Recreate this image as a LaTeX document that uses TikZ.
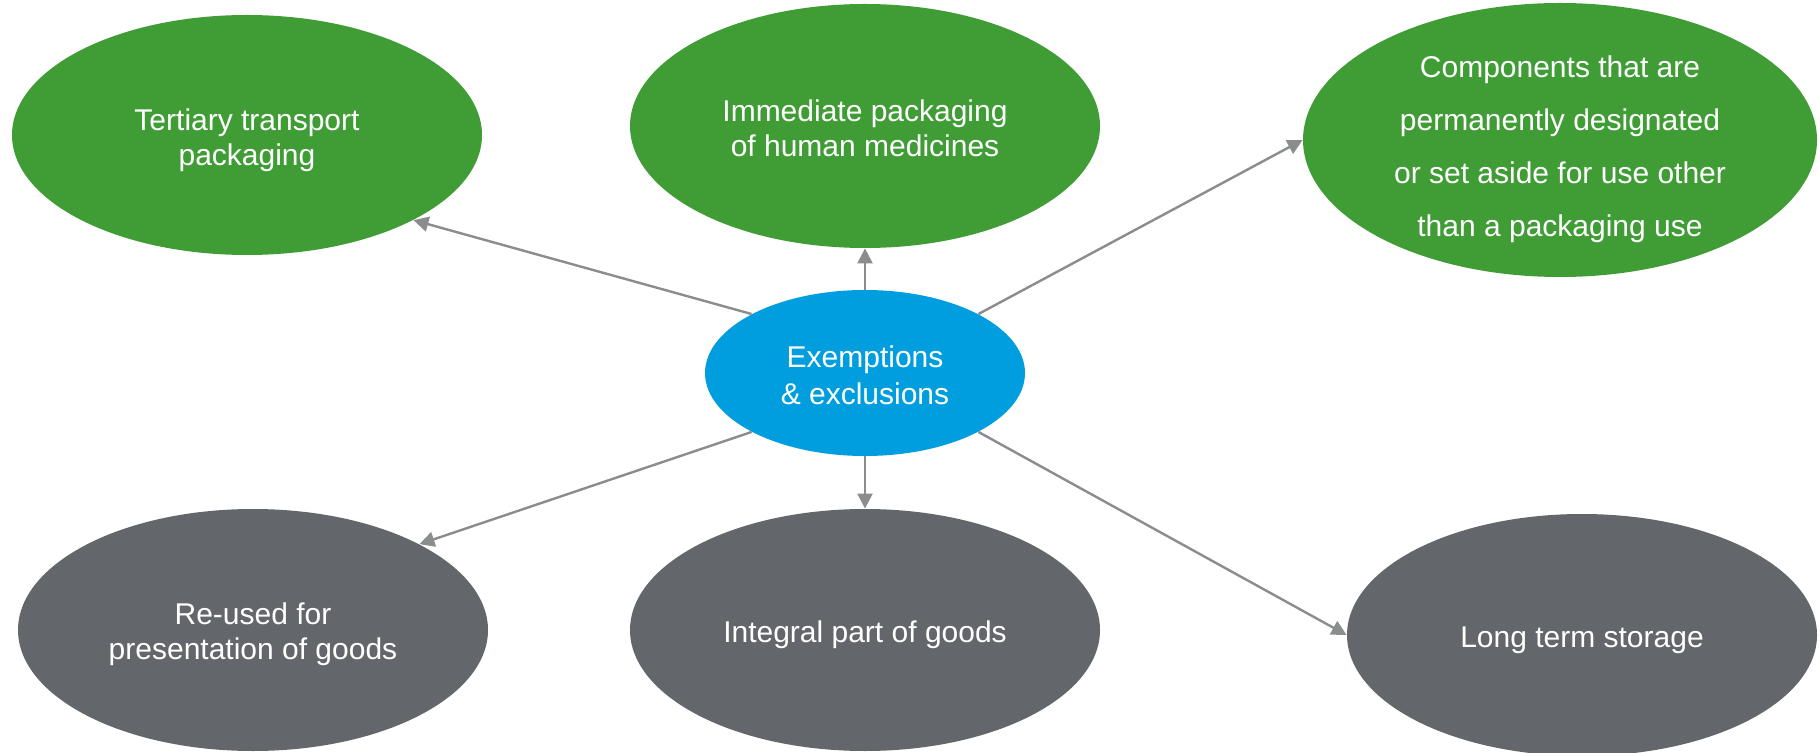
\documentclass[tikz,border=0pt]{standalone}
\usepackage{fontspec}
\setmainfont{Liberation Sans}
\usetikzlibrary{shapes.geometric,arrows.meta}

\definecolor{leafgreen}{RGB}{64,157,54}
\definecolor{hubblue}{RGB}{0,158,223}
\definecolor{slate}{RGB}{99,102,106}
\definecolor{arrowgray}{RGB}{138,140,142}

\newcommand{\capstrut}[1]{\rule{0pt}{#1}} %% pushes the first line down a bit

\begin{document}
\begin{tikzpicture}[x=0.5pt, y=-0.5pt]
    \tikzset{
        bubble/.style={ellipse, inner sep=0pt, text=white, align=center,
            font=\fontsize{15}{17.5}\selectfont},
        keptbubble/.style={bubble, fill=leafgreen},
        dropbubble/.style={bubble, fill=slate},
        link/.style={draw=arrowgray, line width=1.2pt,
            -{Triangle[length=7.5pt,width=7.5pt]}}
    } %% shared looks
    \useasboundingbox (0,0) rectangle (1820,753);

    % centre
    \node[bubble, fill=hubblue, minimum width=160pt, minimum height=83pt,
        font=\fontsize{15}{18.5}\selectfont] (ex) at (865,373) {\capstrut{13pt}Exemptions\\ \& exclusions};

    % upper row
    \node[keptbubble, minimum width=235pt, minimum height=120pt] (tertiary) at (247,135)
        {\capstrut{16pt}Tertiary transport\\ packaging};
    \node[keptbubble, minimum width=235pt, minimum height=122pt] (medicines) at (865,126)
        {\capstrut{13pt}Immediate packaging\\ of human medicines};
    \node[keptbubble, minimum width=257pt, minimum height=137pt, inner ysep=-8pt,
        font=\fontsize{15}{26.5}\selectfont] (components) at (1560,140)
        {\capstrut{20pt}Components that are\\ permanently designated\\ or set aside for use other\\ than a packaging use};

    % lower row
    \node[dropbubble, minimum width=235pt, minimum height=121pt] (reused) at (253,630)
        {\capstrut{15pt}Re-used for\\ presentation of goods};
    \node[dropbubble, minimum width=235pt, minimum height=121pt] (integral) at (865,630)
        {\capstrut{16pt}Integral part of goods};
    \node[dropbubble, minimum width=235pt, minimum height=121pt] (storage) at (1582,635)
        {\capstrut{16pt}Long term storage};

    \draw[link] (ex.north west) -- (tertiary.south east);
    \draw[link] (ex.north) -- (medicines.south);
    \draw[link] (ex.north east) -- (components.west);
    \draw[link] (ex.south west) -- (reused.north east);
    \draw[link] (ex.south) -- (integral.north);
    \draw[link] (ex.south east) -- (storage.west);
\end{tikzpicture}
\end{document}
